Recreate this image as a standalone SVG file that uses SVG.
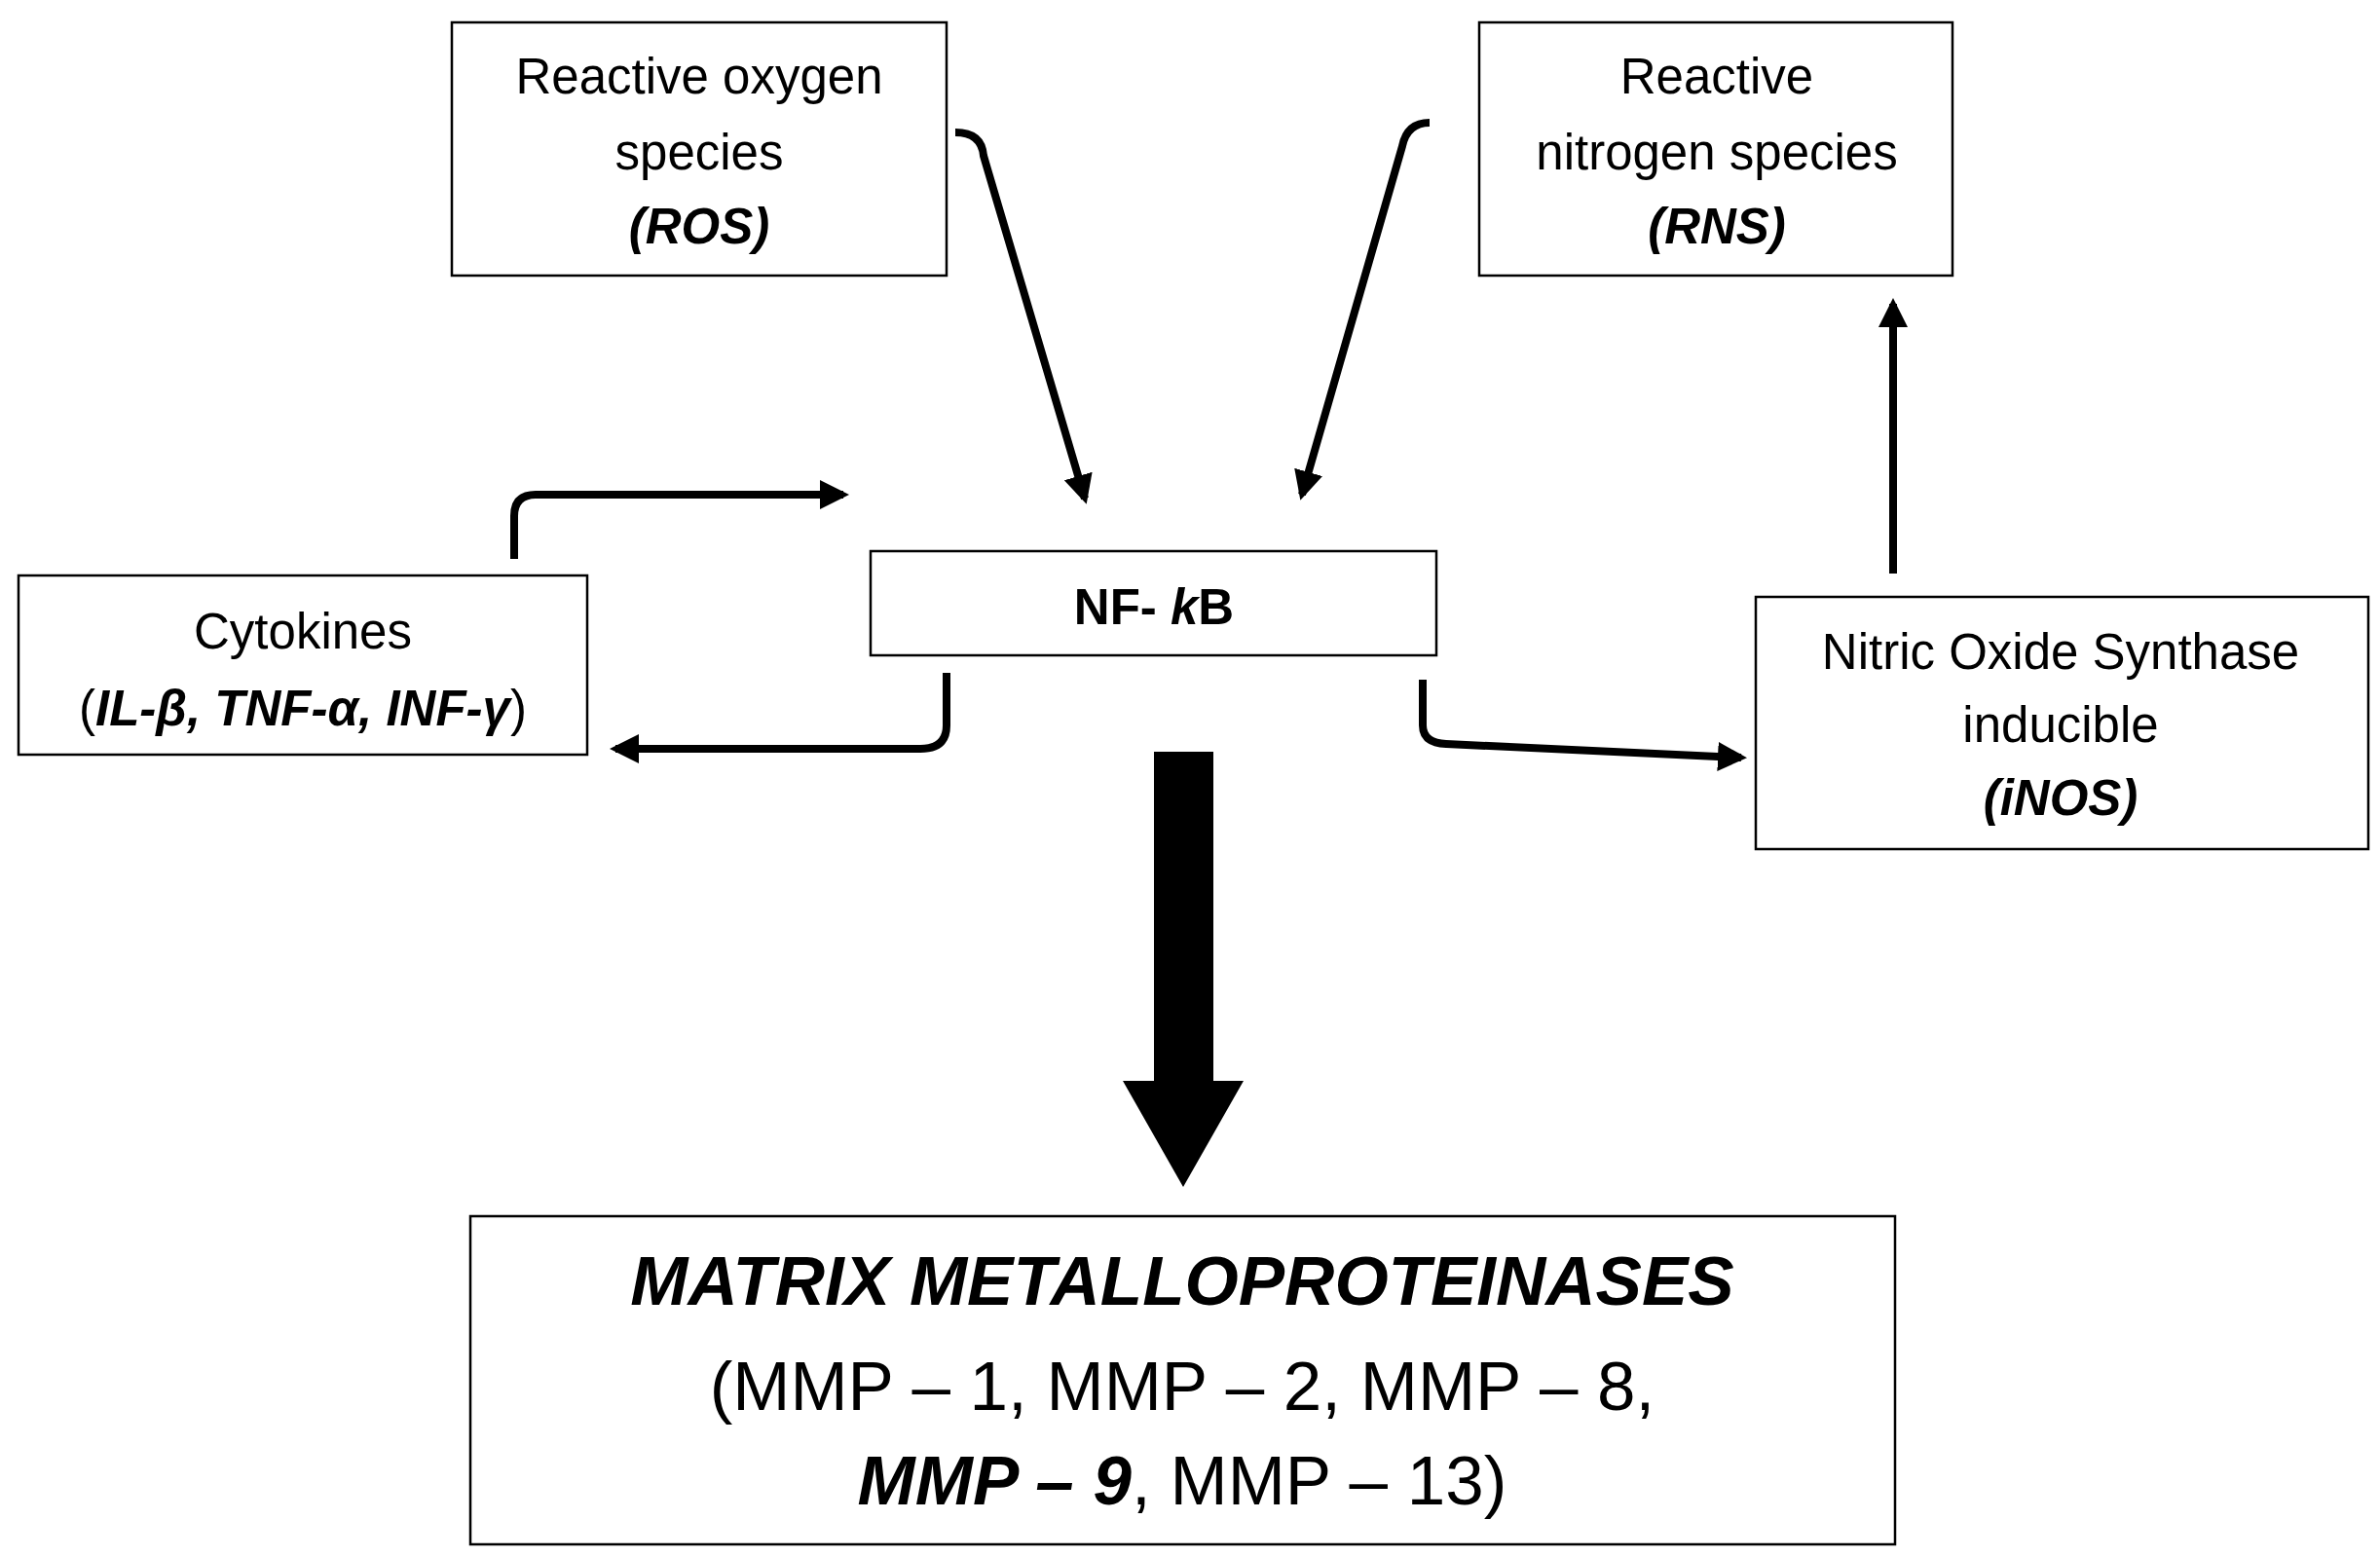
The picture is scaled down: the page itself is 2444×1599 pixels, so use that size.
<svg xmlns="http://www.w3.org/2000/svg" width="2444" height="1599" viewBox="0 0 2444 1599">
<style>
.box{fill:#fff;stroke:#000;stroke-width:2.5}
text{font-family:"Liberation Sans",Arial,sans-serif;font-size:51px;text-anchor:middle;fill:#000}
.bi{font-weight:bold;font-style:italic}
.b{font-weight:bold}
.con{fill:none;stroke:#000;stroke-width:8}
.big{font-size:71px}
</style>
<defs>
<marker id="ah" markerUnits="userSpaceOnUse" markerWidth="34" markerHeight="34" refX="24" refY="17" orient="auto">
<path d="M0,2 L30,17 L0,32 Z" fill="#000"/>
</marker>
</defs>
<rect width="2444" height="1599" fill="#fff"/>
<g id="ros"><rect class="box" x="464" y="23" width="508" height="260"/>
<text x="718" y="96">Reactive oxygen</text><text x="718" y="174">species</text><text x="718" y="250" class="bi">(ROS)</text></g>
<g id="rns"><rect class="box" x="1519" y="23" width="486" height="260"/>
<text x="1763" y="96">Reactive</text><text x="1763" y="174">nitrogen species</text><text x="1763" y="250" class="bi">(RNS)</text></g>
<g id="cyto"><rect class="box" x="19" y="591" width="584" height="184"/>
<text x="311" y="666">Cytokines</text><text x="311" y="745">(<tspan class="bi">IL-β, TNF-α, INF-γ</tspan>)</text></g>
<g id="nfkb"><rect class="box" x="894" y="566" width="581" height="107"/>
<text x="1185" y="641" class="b">NF- <tspan font-style="italic">k</tspan>B</text></g>
<g id="inos"><rect class="box" x="1803" y="613" width="629" height="259"/>
<text x="2116" y="687">Nitric Oxide Synthase</text><text x="2116" y="762">inducible</text><text x="2116" y="837" class="bi">(iNOS)</text></g>
<g id="mmp"><rect class="box" x="483" y="1249" width="1463" height="337"/>
<text x="1214" y="1340" class="big bi">MATRIX METALLOPROTEINASES</text>
<text x="1214" y="1448" class="big">(MMP – 1, MMP – 2, MMP – 8,</text>
<text x="1214" y="1545" class="big"><tspan class="bi">MMP – 9</tspan>, MMP – 13)</text></g>
<g id="connectors">
<path class="con" d="M981,136 Q1008,136 1010,160 L1114,512" marker-end="url(#ah)"/>
<path class="con" d="M1468,126 Q1445,126 1440,150 L1337,508" marker-end="url(#ah)"/>
<path class="con" d="M528,574 L528,530 Q528,508 550,508 L866,508" marker-end="url(#ah)"/>
<path class="con" d="M972,691 L972,745 Q972,769 945,769 L632,769" marker-end="url(#ah)"/>
<path class="con" d="M1461,698 L1461,745 Q1461,763 1485,764 L1788,778" marker-end="url(#ah)"/>
<path class="con" d="M1944,589 L1944,312" marker-end="url(#ah)"/>
<path d="M1185,772 L1246,772 L1246,1110 L1277,1110 L1215,1219 L1153,1110 L1185,1110 Z" fill="#000"/>
</g>
</svg>
